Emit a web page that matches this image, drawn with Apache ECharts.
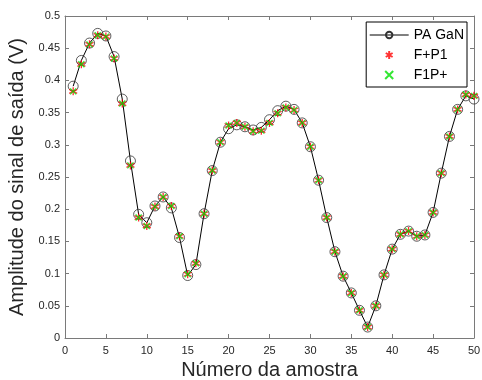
<!DOCTYPE html>
<html>
<head>
<meta charset="utf-8">
<script src="https://cdn.jsdelivr.net/npm/echarts@6/dist/echarts.min.js"></script>
<style>
  html, body { margin: 0; padding: 0; background: #fff; }
  #chart { width: 482px; height: 380px; }
</style>
</head>
<body>
<div id="chart"></div>
<script>
// sample index 1..50
const samples = Array.from({ length: 50 }, (_, i) => i + 1);

const paGaN = [
  0.391, 0.431, 0.458, 0.473, 0.469, 0.437, 0.371, 0.275, 0.192, 0.179,
  0.205, 0.219, 0.202, 0.156, 0.097, 0.114, 0.193, 0.260, 0.304, 0.325,
  0.331, 0.328, 0.323, 0.327, 0.339, 0.353, 0.360, 0.355, 0.334, 0.297,
  0.245, 0.187, 0.134, 0.096, 0.070, 0.043, 0.017, 0.050, 0.098, 0.138,
  0.161, 0.166, 0.158, 0.160, 0.195, 0.256, 0.313, 0.355, 0.376, 0.371
];

const fP1 = [
  0.383, 0.425, 0.456, 0.470, 0.468, 0.434, 0.364, 0.268, 0.187, 0.174,
  0.204, 0.219, 0.205, 0.158, 0.099, 0.116, 0.193, 0.260, 0.304, 0.330,
  0.334, 0.328, 0.321, 0.322, 0.334, 0.349, 0.358, 0.354, 0.334, 0.297,
  0.245, 0.187, 0.134, 0.096, 0.070, 0.043, 0.017, 0.050, 0.098, 0.138,
  0.161, 0.166, 0.158, 0.160, 0.195, 0.256, 0.313, 0.355, 0.378, 0.376
];

const f1P = [
  0.383, 0.425, 0.456, 0.470, 0.468, 0.434, 0.364, 0.268, 0.187, 0.174,
  0.204, 0.219, 0.205, 0.158, 0.099, 0.116, 0.193, 0.260, 0.304, 0.330,
  0.334, 0.328, 0.321, 0.322, 0.334, 0.349, 0.358, 0.354, 0.334, 0.297,
  0.245, 0.187, 0.134, 0.096, 0.070, 0.043, 0.017, 0.050, 0.098, 0.138,
  0.161, 0.166, 0.158, 0.160, 0.195, 0.256, 0.313, 0.355, 0.378, 0.376
];

const pair = (ys) => samples.map((x, i) => [x, ys[i]]);

const asterisk = "path://M5,0L5,10M0.7,2.5L9.3,7.5M0.7,7.5L9.3,2.5";
const cross = "path://M0,0L10,10M0,10L10,0";

const font = "Liberation Sans, Arial, sans-serif";
const axisColor = "#7a7a7a";
const textColor = "#262626";

const chart = echarts.init(document.getElementById("chart"));

const frameAxis = {
  min: 0,
  axisLine: { show: true, onZero: false, lineStyle: { color: axisColor, width: 1 } },
  axisTick: { show: true, inside: true, length: 4, lineStyle: { color: axisColor } },
  splitLine: { show: false },
};

chart.setOption({
  animation: false,
  textStyle: { fontFamily: font },
  grid: { left: 65, right: 8, top: 16, bottom: 42, containLabel: false, outerBoundsMode: "none" },
  legend: {
    orient: "vertical",
    right: 15,
    top: 22,
    backgroundColor: "#fff",
    borderColor: "#000",
    borderWidth: 1,
    borderRadius: 0,
    padding: [6, 3, 5, 3],
    itemGap: 6,
    itemWidth: 39,
    itemHeight: 8,
    lineStyle: { width: 1 },
    textStyle: { fontSize: 14, color: "#000", fontFamily: font },
    data: ["PA GaN", "F+P1", "F1P+"],
  },
  xAxis: [
    {
      ...frameAxis,
      type: "value",
      max: 50,
      interval: 5,
      position: "bottom",
      name: "Número da amostra",
      nameLocation: "middle",
      nameGap: 22,
      nameTextStyle: { fontSize: 20, color: textColor, fontFamily: font },
      axisLabel: { fontSize: 11, color: textColor, margin: 7 },
    },
    {
      ...frameAxis,
      type: "value",
      max: 50,
      interval: 5,
      position: "top",
      axisLabel: { show: false },
    },
  ],
  yAxis: [
    {
      ...frameAxis,
      type: "value",
      max: 0.5,
      interval: 0.05,
      position: "left",
      name: "Amplitude do sinal de saída (V)",
      nameLocation: "middle",
      nameGap: 28,
      nameTextStyle: { fontSize: 20, color: textColor, fontFamily: font },
      axisLabel: { fontSize: 11, color: textColor, margin: 5 },
    },
    {
      ...frameAxis,
      type: "value",
      max: 0.5,
      interval: 0.05,
      position: "right",
      axisLabel: { show: false },
    },
  ],
  series: [
    {
      name: "PA GaN",
      type: "line",
      data: pair(paGaN),
      symbol: "circle",
      symbolSize: 10,
      showAllSymbol: true,
      lineStyle: { color: "#000", width: 1 },
      itemStyle: { color: "rgba(255,255,255,0)", borderColor: "#333", borderWidth: 0.8 },
      z: 2,
    },
    {
      name: "F+P1",
      type: "scatter",
      data: pair(fP1),
      symbol: asterisk,
      symbolSize: 8,
      itemStyle: { color: "rgba(0,0,0,0)", borderColor: "#ff0000", borderWidth: 1.3 },
      z: 3,
    },
    {
      name: "F1P+",
      type: "scatter",
      data: pair(f1P),
      symbol: cross,
      symbolSize: 6,
      itemStyle: { color: "rgba(0,0,0,0)", borderColor: "#00e000", borderWidth: 1.3 },
      z: 4,
    },
  ],
});
</script>
</body>
</html>
